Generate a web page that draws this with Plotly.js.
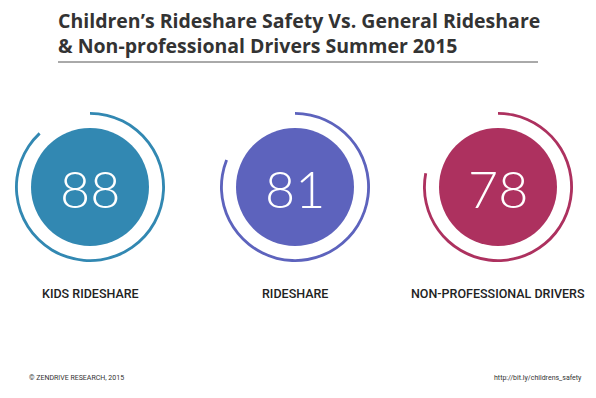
<!DOCTYPE html>
<html><head><meta charset="utf-8">
<script src="https://cdn.plot.ly/plotly-3.0.1.min.js"></script>
<style>html,body{margin:0;padding:0;background:#fff}</style>
</head><body><div id="chart" style="width:596px;height:398px"></div>
<script>
const categories = ["KIDS RIDESHARE", "RIDESHARE", "NON-PROFESSIONAL DRIVERS"];
const scores = [88, 81, 78];
const colors = ["#3288b2", "#5d63bd", "#ad315f"];
const titleText = "Children’s Rideshare Safety Vs. General Rideshare<br>& Non-professional Drivers Summer 2015";
const footerLeft = "© ZENDRIVE RESEARCH, 2015";
const footerRight = "http://bit.ly/childrens_safety";

const W = 596, H = 398;
const centersX = [90, 295, 498];
const cy = 187, ringR = 75, discR = 59;
function dom(cx, cyp, r) {
  return { x: [(cx - r) / W, (cx + r) / W], y: [1 - (cyp + r) / H, 1 - (cyp - r) / H] };
}
const traces = [];
const annotations = [];
scores.forEach((v, i) => {
  traces.push({
    type: 'pie', values: [v, 100 - v], sort: false, direction: 'clockwise', rotation: 0,
    hole: 0.962, textinfo: 'none', hoverinfo: 'none', showlegend: false,
    marker: { colors: [colors[i], 'rgba(0,0,0,0)'], line: { width: 0 } },
    domain: dom(centersX[i], cy, ringR)
  });
  traces.push({
    type: 'pie', values: [v], sort: false, textinfo: 'none', hoverinfo: 'none', showlegend: false,
    marker: { colors: [colors[i]], line: { width: 0 } },
    domain: dom(centersX[i], cy, discR)
  });
  annotations.push({
    text: String(v), xref: 'paper', yref: 'paper', x: centersX[i] / W, y: 1 - (cy + 1) / H,
    showarrow: false, xanchor: 'center', yanchor: 'middle',
    font: { family: 'Lato', size: 52, weight: 300, color: '#ffffff' }
  });
  annotations.push({
    text: categories[i], xref: 'paper', yref: 'paper', x: centersX[i] / W, y: 1 - 293 / H,
    showarrow: false, xanchor: 'center', yanchor: 'middle',
    font: { family: 'Roboto', size: 12.5, weight: 500, color: '#222222' }
  });
});
annotations.push({
  text: titleText, xref: 'paper', yref: 'paper', x: 56 / W, y: 1 - 5 / H,
  showarrow: false, xanchor: 'left', yanchor: 'top', align: 'left',
  font: { family: 'Open Sans', size: 19.5, weight: 700, color: '#333333' }
});
annotations.push({
  text: footerLeft, xref: 'paper', yref: 'paper', x: 27 / W, y: 1 - 378 / H,
  showarrow: false, xanchor: 'left', yanchor: 'middle',
  font: { family: 'Roboto', size: 7, color: '#333333' }
});
annotations.push({
  text: footerRight, xref: 'paper', yref: 'paper', x: 584 / W, y: 1 - 378 / H,
  showarrow: false, xanchor: 'right', yanchor: 'middle',
  font: { family: 'Roboto', size: 7, color: '#333333' }
});

const layout = {
  width: W, height: H, margin: { l: 0, r: 0, t: 0, b: 0 },
  paper_bgcolor: '#ffffff', plot_bgcolor: '#ffffff',
  shapes: [{ type: 'line', xref: 'paper', yref: 'paper', x0: 58 / W, x1: 538 / W,
    y0: 1 - 62 / H, y1: 1 - 62 / H, line: { color: '#555555', width: 1 } }],
  annotations: annotations
};
Plotly.newPlot('chart', traces, layout, { staticPlot: true, displayModeBar: false });
</script></body></html>
